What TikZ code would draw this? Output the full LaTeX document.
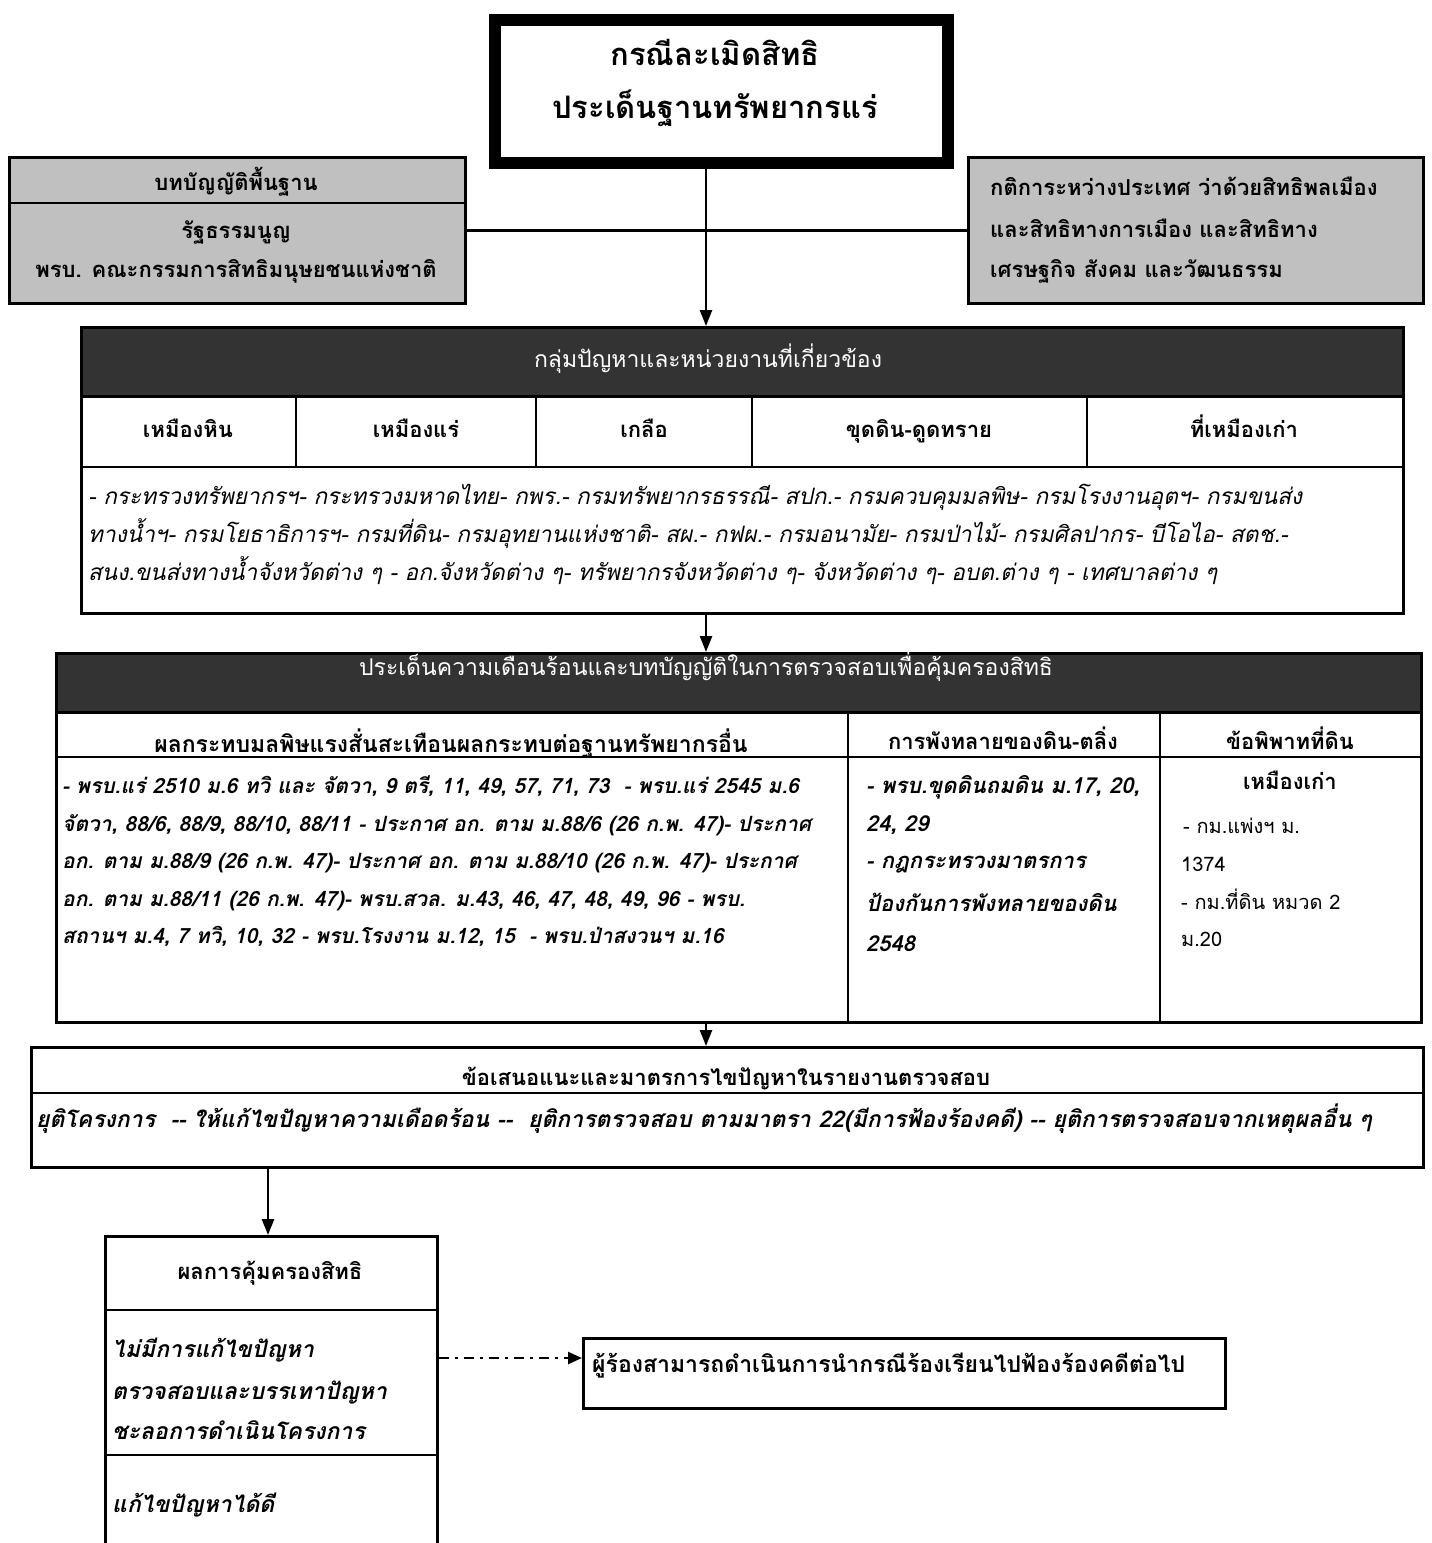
\documentclass[tikz,border=0pt]{standalone}
\usepackage{fontspec}
\setmainfont[Script=Thai]{Loma}
\usetikzlibrary{arrows.meta}
\newcommand\twohyph{-\kern0pt-}
\definecolor{bandgray}{HTML}{333333}
\definecolor{boxgray}{HTML}{C0C0C0}
\tikzset{
  frame/.style={draw=black, line width=2.8pt, anchor=north west, inner sep=0pt},
  grayframe/.style={frame, fill=boxgray},
  band/.style={fill=bandgray, draw=black, line width=2.8pt, anchor=north west, inner sep=0pt},
  tl/.style={anchor=base west, inner sep=0pt},
  tc/.style={anchor=base, inner sep=0pt},
  fT/.style={font=\fontsize{31}{36}\selectfont\bfseries},
  fH/.style={font=\fontsize{22}{26}\selectfont\bfseries},
  fHx/.style={font=\fontsize{23}{27}\selectfont\bfseries},
  fW/.style={font=\fontsize{23}{27}\selectfont, text=white},
  fI/.style={font=\fontsize{22.6}{27}\selectfont\itshape},
  fBI/.style={font=\fontsize{22}{26}\selectfont\bfseries\itshape},
  fBIs/.style={font=\fontsize{21}{25}\selectfont\bfseries\itshape},
  fBIx/.style={font=\fontsize{23}{27}\selectfont\bfseries\itshape},
  fR/.style={font=\fontsize{20}{24}\selectfont},
  conn/.style={line width=2.5pt, -{Triangle[length=16pt,width=12pt]}},
  plain/.style={line width=2.8pt},
  dashdot/.style={line width=2.5pt, dash pattern=on 10pt off 6pt on 3pt off 6pt, -{Triangle[length=14pt,width=12pt]}},
}
\begin{document}
\begin{tikzpicture}[x=1pt,y=-1pt]
\useasboundingbox (0,0) rectangle (1432,1543);
\clip (0,0) rectangle (1432,1543);
\coordinate (spine) at (706,0);
\coordinate (spineb) at (268,0);
\coordinate (ddy) at (0,1358);
% title
\node[draw=black, line width=12pt, anchor=north west, minimum width=453pt, minimum height=143pt, inner sep=0pt] (title) at (489,14) {};
\node[tc, fT] (t1) at (715,65) {กรณีละเมิดสิทธิ};
\node[tc, fT] (t2) at (715,118) {ประเด็นฐานทรัพยากรแร่};
% gray boxes
\node[grayframe, minimum width=456pt, minimum height=146pt] (lbox) at (8,156) {};
\draw[plain] (8,203) -- (464,203);
\node[tc, fH] (l1) at (236,190) {บทบัญญัติพื้นฐาน};
\node[tc, fH] (l2) at (236,238) {รัฐธรรมนูญ};
\node[tc, fH] (l3) at (236,277) {พรบ. คณะกรรมการสิทธิมนุษยชนแห่งชาติ};
\node[grayframe, minimum width=455pt, minimum height=146pt] (rbox) at (967,156) {};
\node[tl, fH] (r1) at (990,195) {กติการะหว่างประเทศ ว่าด้วยสิทธิพลเมือง};
\node[tl, fH] (r2) at (990,237) {และสิทธิทางการเมือง และสิทธิทาง};
\node[tl, fH] (r3) at (990,277) {เศรษฐกิจ สังคม และวัฒนธรรม};
% groups box
\node[frame, minimum width=1322pt, minimum height=286pt] (groups) at (80,326) {};
\node[band, minimum width=1322pt, minimum height=69pt] (gband) at (80,326) {};
\node[tc, fW] (gh) at (708,367) {กลุ่มปัญหาและหน่วยงานที่เกี่ยวข้อง};
\draw[plain] (80,467) -- (1402,467);
\draw[plain] (296,395) -- (296,467);
\draw[plain] (536,395) -- (536,467);
\draw[plain] (752,395) -- (752,467);
\draw[plain] (1087,395) -- (1087,467);
\node[tc, fH] (c1) at (188,437) {เหมืองหิน};
\node[tc, fH] (c2) at (416,437) {เหมืองแร่};
\node[tc, fH] (c3) at (644,437) {เกลือ};
\node[tc, fH] (c4) at (919,437) {ขุดดิน-ดูดทราย};
\node[tc, fH] (c5) at (1244,437) {ที่เหมืองเก่า};
\node[tl, fI] (g1) at (88,504) {- กระทรวงทรัพยากรฯ- กระทรวงมหาดไทย- กพร.- กรมทรัพยากรธรรณี- สปก.- กรมควบคุมมลพิษ- กรมโรงงานอุตฯ- กรมขนส่ง};
\node[tl, fI] (g2) at (88,542) {ทางน้ำฯ- กรมโยธาธิการฯ- กรมที่ดิน- กรมอุทยานแห่งชาติ- สผ.- กฟผ.- กรมอนามัย- กรมป่าไม้- กรมศิลปากร- บีโอไอ- สตช.-};
\node[tl, fI] (g3) at (88,580) {สนง.ขนส่งทางน้ำจังหวัดต่าง ๆ - อก.จังหวัดต่าง ๆ- ทรัพยากรจังหวัดต่าง ๆ- จังหวัดต่าง ๆ- อบต.ต่าง ๆ - เทศบาลต่าง ๆ};
% issues box
\node[frame, minimum width=1365pt, minimum height=369pt] (issues) at (55,652) {};
\node[band, minimum width=1365pt, minimum height=59pt] (iband) at (55,652) {};
\node[tc, fW] (ih) at (706,675) {ประเด็นความเดือนร้อนและบทบัญญัติในการตรวจสอบเพื่อคุ้มครองสิทธิ};
\draw[plain] (55,757) -- (1420,757);
\draw[plain] (848,711) -- (848,1021);
\draw[plain] (1160,711) -- (1160,1021);
\node[tc, fHx] (h1) at (451,752) {ผลกระทบมลพิษแรงสั่นสะเทือนผลกระทบต่อฐานทรัพยากรอื่น};
\node[tc, fH] (h2) at (1003,749) {การพังทลายของดิน-ตลิ่ง};
\node[tc, fH] (h3) at (1290,749) {ข้อพิพาทที่ดิน};
\node[tl, fBIs] (a1) at (62,793) {- พรบ.แร่ 2510 ม.6 ทวิ และ จัตวา, 9 ตรี, 11, 49, 57, 71, 73 \ - พรบ.แร่ 2545 ม.6};
\node[tl, fBIs] (a2) at (62,831) {จัตวา, 88/6, 88/9, 88/10, 88/11 - ประกาศ อก. ตาม ม.88/6 (26 ก.พ. 47)- ประกาศ};
\node[tl, fBIs] (a3) at (62,868) {อก. ตาม ม.88/9 (26 ก.พ. 47)- ประกาศ อก. ตาม ม.88/10 (26 ก.พ. 47)- ประกาศ};
\node[tl, fBIs] (a4) at (62,906) {อก. ตาม ม.88/11 (26 ก.พ. 47)- พรบ.สวล. ม.43, 46, 47, 48, 49, 96 - พรบ.};
\node[tl, fBIs] (a5) at (62,943) {สถานฯ ม.4, 7 ทวิ, 10, 32 - พรบ.โรงงาน ม.12, 15 \ - พรบ.ป่าสงวนฯ ม.16};
\node[tl, fBI] (b1) at (866,793) {- พรบ.ขุดดินถมดิน ม.17, 20,};
\node[tl, fBI] (b2) at (866,831) {24, 29};
\node[tl, fBI] (b3) at (866,868) {- กฎกระทรวงมาตรการ};
\node[tl, fBI] (b4) at (866,911) {ป้องกันการพังทลายของดิน};
\node[tl, fBI] (b5) at (866,951) {2548};
\node[tc, fH] (d1) at (1290,789) {เหมืองเก่า};
\node[tl, fR] (d2) at (1183,833) {- กม.แพ่งฯ ม.};
\node[tl, fR] (d3) at (1181,871) {1374};
\node[tl, fR] (d4) at (1181,909) {- กม.ที่ดิน หมวด 2};
\node[tl, fR] (d5) at (1181,946) {ม.20};
% recommendations box
\node[frame, minimum width=1392pt, minimum height=120pt] (recs) at (30,1046) {};
\draw[plain] (30,1093) -- (1422,1093);
\node[tc, fH] (rh) at (726,1085) {ข้อเสนอแนะและมาตรการไขปัญหาในรายงานตรวจสอบ};
\node[tl, fBIx] (rb) at (36,1127) {ยุติโครงการ \ \twohyph\ ให้แก้ไขปัญหาความเดือดร้อน \twohyph\ \ ยุติการตรวจสอบ ตามมาตรา 22(มีการฟ้องร้องคดี) \twohyph\ ยุติการตรวจสอบจากเหตุผลอื่น ๆ};
% results box
\node[frame, minimum width=332pt, minimum height=340pt] (results) at (104,1235) {};
\draw[plain] (104,1310) -- (436,1310);
\draw[plain] (104,1455) -- (436,1455);
\node[tc, fH] (p0) at (270,1279) {ผลการคุ้มครองสิทธิ};
\node[tl, fBIx] (p1) at (112,1357) {ไม่มีการแก้ไขปัญหา};
\node[tl, fBIx] (p2) at (112,1399) {ตรวจสอบและบรรเทาปัญหา};
\node[tl, fBIx] (p3) at (112,1439) {ชะลอการดำเนินโครงการ};
\node[tl, fBIx] (p4) at (112,1512) {แก้ไขปัญหาได้ดี};
% sue box
\node[frame, minimum width=642pt, minimum height=70pt] (sue) at (582,1337) {};
\node[tl, fHx] (s1) at (592,1372) {ผู้ร้องสามารถดำเนินการนำกรณีร้องเรียนไปฟ้องร้องคดีต่อไป};
% connectors
\draw[conn] (title.south -| spine) -- (groups.north -| spine);
\draw[plain] (lbox.east) -- (rbox.west);
\draw[conn] (groups.south -| spine) -- (issues.north -| spine);
\draw[conn] (issues.south -| spine) -- (recs.north -| spine);
\draw[conn] (recs.south -| spineb) -- (results.north -| spineb);
\draw[dashdot] (results.east |- ddy) -- (sue.west |- ddy);
\end{tikzpicture}
\end{document}
